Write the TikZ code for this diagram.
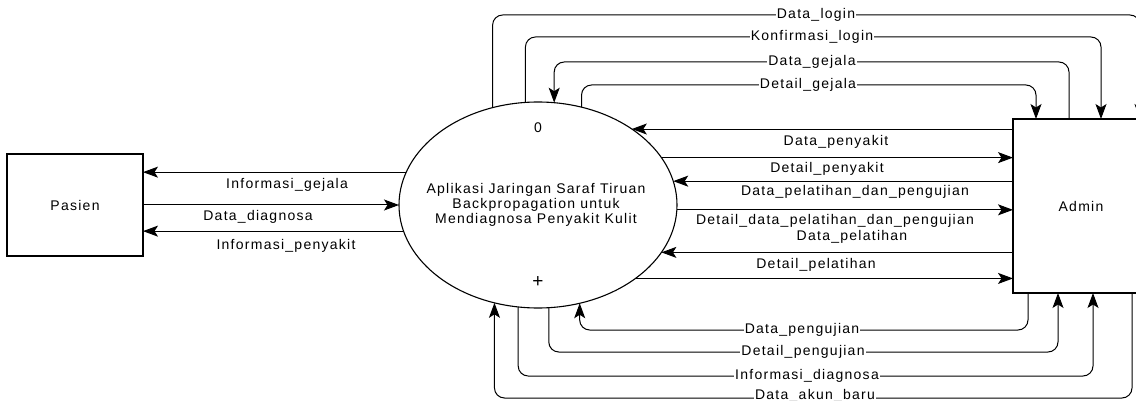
\documentclass[tikz,border=0pt]{standalone}
\usepackage{fontspec}
\setmainfont{Liberation Sans}[LetterSpace=9]
\usetikzlibrary{arrows.meta,shapes.geometric,calc}
\begin{document}
\begin{tikzpicture}[x=1pt,y=-1pt,
  every node/.style={font=\fontsize{14}{15}\selectfont},
  flow/.style={draw, line width=1pt, -{Stealth[length=15pt,width=11pt,inset=3.5pt]}},
  ent/.style={draw, line width=1.1pt, rectangle, inner sep=0pt, outer sep=0pt},
  proc/.style={draw, line width=1.1pt, ellipse, inner sep=0pt, outer sep=0pt},
  lbl/.style={fill=white, inner sep=1pt},
  rc/.style={rounded corners=10pt}]
\useasboundingbox (0,0) rectangle (1136,401);
\clip (0,0) rectangle (1136,401);

% entities and process
\node[ent, minimum width=136pt, minimum height=102pt] (pasien) at (75,205) {Pasien};
\node[ent, minimum width=136pt, minimum height=174pt] (admin) at (1081,206) {Admin};
\node[proc, minimum width=278pt, minimum height=206pt] (circ) at (538,205) {};
\node (pnum) at (538,128) {0};
\node[align=center] (ptext) at (536,205) {Aplikasi Jaringan Saraf Tiruan\\Backpropagation untuk\\Mendiagnosa Penyakit Kulit};
\node[font=\fontsize{19}{19}\selectfont] (plus) at (538,282) {+};

% Pasien flows
\draw[flow] (circ.166.4) -- (circ.166.4 -| pasien.east);
\draw[flow] (circ.180 -| pasien.east) -- (circ.180);
\draw[flow] (circ.191.8) -- (circ.191.8 -| pasien.east);

% Admin horizontal flows
\draw[flow] (circ.39 -| admin.west) -- (circ.39);
\draw[flow] (circ.21.3) -- (circ.21.3 -| admin.west);
\draw[flow] (circ.10.5 -| admin.west) -- (circ.10.5);
\draw[flow] (circ.358.4) -- (circ.358.4 -| admin.west);
\draw[flow] (circ.339.6 -| admin.west) -- (circ.339.6);
\draw[flow] (circ.323.3) -- (circ.323.3 -| admin.west);

% top loops
\draw[flow, rc] (circ.115.9) |- ($(admin.north)+(59,-104)$) -- ([xshift=59pt]admin.north);
\draw[flow, rc] (circ.97.8) |- ($(admin.north)+(20,-82)$) -- ([xshift=20pt]admin.north);
\draw[flow, rc] ([xshift=-12pt]admin.north) -- ++(0,-57) -| (circ.81.1);
\draw[flow, rc] (circ.66.3) |- ($(admin.north)+(-45,-34)$) -- ([xshift=-45pt]admin.north);

% bottom loops
\draw[flow, rc] ([xshift=-53pt]admin.south) -- ++(0,37) -| (circ.293.2);
\draw[flow, rc] (circ.276.1) |- ($(admin.south)+(-23,59)$) -- ([xshift=-23pt]admin.south);
\draw[flow, rc] (circ.259.4) |- ($(admin.south)+(12,83)$) -- ([xshift=12pt]admin.south);
\draw[flow, rc] ([xshift=51pt]admin.south) -- ++(0,105) -| (circ.246.3);

% labels
\node[lbl] (t1) at (816,15) {Data\_login};
\node[lbl] (t2) at (812,37) {Konfirmasi\_login};
\node[lbl] (t3) at (812,62) {Data\_gejala};
\node[lbl] (t4) at (808,85) {Detail\_gejala};

\node (r1) at (836,142) {Data\_penyakit};
\node (r2) at (827,169) {Detail\_penyakit};
\node (r3) at (855,192) {Data\_pelatihan\_dan\_pengujian};
\node (r4) at (835,221) {Detail\_data\_pelatihan\_dan\_pengujian};
\node (r5) at (852,237) {Data\_pelatihan};
\node (r6) at (816,265) {Detail\_pelatihan};

\node (p1) at (287,185) {Informasi\_gejala};
\node (p2) at (258,217) {Data\_diagnosa};
\node (p3) at (286,246) {Informasi\_penyakit};

\node[lbl] (b1) at (802,330) {Data\_pengujian};
\node[lbl] (b2) at (803,352) {Detail\_pengujian};
\node[lbl] (b3) at (807,376) {Informasi\_diagnosa};
\node[lbl] (b4) at (815,396) {Data\_akun\_baru};
\end{tikzpicture}
\end{document}
